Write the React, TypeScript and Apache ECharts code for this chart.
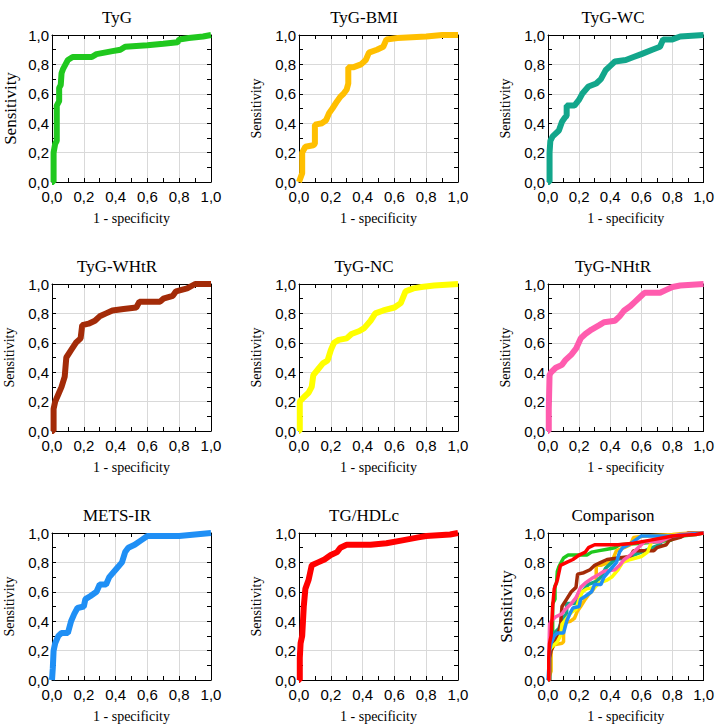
import React, { useEffect, useRef } from "react";
import * as echarts from "echarts";

type Pt = [number, number];

const PANEL_TITLES = ["TyG", "TyG-BMI", "TyG-WC", "TyG-WHtR", "TyG-NC", "TyG-NHtR", "METS-IR", "TG/HDLc", "Comparison"];
const CURVE_COLORS = ["#20c81e", "#ffbf00", "#12a68b", "#a32b08", "#ffff00", "#ff5cae", "#1f8ff5", "#ff0000"];
const Y_NAME = "Sensitivity";
const X_NAME = "1 - specificity";

const tyg: Pt[] = [[0, 0], [0.01, 0], [0.01, 0.2], [0.02, 0.26], [0.03, 0.28], [0.03, 0.52], [0.045, 0.55], [0.045, 0.64], [0.055, 0.66], [0.06, 0.74], [0.07, 0.77], [0.085, 0.8], [0.1, 0.83], [0.13, 0.85], [0.25, 0.85], [0.28, 0.87], [0.33, 0.88], [0.38, 0.89], [0.43, 0.9], [0.46, 0.92], [0.6, 0.93], [0.7, 0.94], [0.79, 0.95], [0.8, 0.97], [0.86, 0.98], [0.95, 0.99], [1, 1]];
const tygBmi: Pt[] = [[0, 0], [0.02, 0.06], [0.02, 0.2], [0.04, 0.24], [0.09, 0.25], [0.1, 0.26], [0.1, 0.39], [0.145, 0.4], [0.17, 0.42], [0.19, 0.47], [0.21, 0.5], [0.24, 0.55], [0.26, 0.58], [0.28, 0.6], [0.3, 0.63], [0.31, 0.67], [0.31, 0.78], [0.34, 0.78], [0.39, 0.8], [0.42, 0.83], [0.44, 0.88], [0.49, 0.9], [0.53, 0.92], [0.55, 0.97], [0.62, 0.98], [0.8, 0.99], [0.9, 1], [1, 1]];
const tygWc: Pt[] = [[0, 0], [0.01, 0], [0.01, 0.2], [0.015, 0.28], [0.03, 0.31], [0.07, 0.35], [0.09, 0.41], [0.11, 0.44], [0.12, 0.45], [0.12, 0.52], [0.17, 0.52], [0.2, 0.56], [0.22, 0.6], [0.26, 0.65], [0.31, 0.67], [0.34, 0.7], [0.37, 0.76], [0.4, 0.79], [0.43, 0.82], [0.5, 0.83], [0.55, 0.85], [0.6, 0.87], [0.67, 0.9], [0.72, 0.92], [0.74, 0.97], [0.8, 0.97], [0.85, 0.99], [1, 1]];
const tygWhtr: Pt[] = [[0, 0], [0.01, 0], [0.01, 0.15], [0.02, 0.2], [0.04, 0.25], [0.06, 0.3], [0.08, 0.37], [0.09, 0.5], [0.12, 0.55], [0.15, 0.6], [0.18, 0.63], [0.19, 0.72], [0.23, 0.73], [0.27, 0.75], [0.3, 0.78], [0.34, 0.8], [0.38, 0.82], [0.45, 0.83], [0.53, 0.84], [0.55, 0.88], [0.68, 0.88], [0.7, 0.9], [0.76, 0.92], [0.78, 0.95], [0.85, 0.97], [0.9, 1], [1, 1]];
const tygNc: Pt[] = [[0, 0], [0.005, 0], [0.005, 0.2], [0.03, 0.23], [0.06, 0.26], [0.08, 0.3], [0.09, 0.38], [0.12, 0.42], [0.15, 0.46], [0.18, 0.48], [0.2, 0.55], [0.22, 0.6], [0.25, 0.62], [0.3, 0.63], [0.33, 0.66], [0.38, 0.68], [0.41, 0.7], [0.45, 0.75], [0.48, 0.8], [0.53, 0.82], [0.6, 0.84], [0.64, 0.87], [0.67, 0.95], [0.72, 0.97], [0.77, 0.98], [0.85, 0.99], [1, 1]];
const tygNhtr: Pt[] = [[0, 0], [0.005, 0], [0.005, 0.15], [0.01, 0.38], [0.02, 0.4], [0.05, 0.43], [0.09, 0.45], [0.11, 0.48], [0.15, 0.52], [0.18, 0.56], [0.21, 0.63], [0.24, 0.66], [0.28, 0.69], [0.33, 0.72], [0.36, 0.74], [0.43, 0.75], [0.46, 0.78], [0.49, 0.82], [0.53, 0.85], [0.56, 0.88], [0.6, 0.92], [0.62, 0.94], [0.72, 0.94], [0.76, 0.96], [0.8, 0.98], [0.85, 0.99], [1, 1]];
const metsIr: Pt[] = [[0, 0], [0.005, 0.08], [0.01, 0.2], [0.02, 0.25], [0.04, 0.3], [0.06, 0.32], [0.1, 0.32], [0.12, 0.4], [0.14, 0.45], [0.16, 0.49], [0.2, 0.5], [0.21, 0.55], [0.24, 0.57], [0.28, 0.6], [0.3, 0.65], [0.34, 0.65], [0.36, 0.7], [0.4, 0.75], [0.44, 0.8], [0.46, 0.87], [0.48, 0.9], [0.52, 0.92], [0.56, 0.95], [0.6, 0.98], [0.8, 0.98], [0.9, 0.99], [1, 1]];
const tgHdl: Pt[] = [[0, 0], [0.005, 0], [0.005, 0.15], [0.01, 0.25], [0.02, 0.3], [0.03, 0.5], [0.04, 0.62], [0.06, 0.68], [0.08, 0.78], [0.12, 0.8], [0.16, 0.82], [0.2, 0.85], [0.24, 0.87], [0.26, 0.9], [0.3, 0.92], [0.45, 0.92], [0.55, 0.93], [0.65, 0.95], [0.75, 0.97], [0.8, 0.98], [0.95, 0.99], [1, 1]];

const CURVES: Pt[][] = [tyg, tygBmi, tygWc, tygWhtr, tygNc, tygNhtr, metsIr, tgHdl];

const COL_LEFT = [52, 299, 548];
const ROW_TOP = [35, 284, 533];
const PW = 159;
const PH = 147;

const SERIF = "'Times New Roman', 'Liberation Serif', Tinos, serif";
const SANS = "Arial, 'Liberation Sans', Arimo, sans-serif";

const fmt = (v: number) => v.toFixed(1).replace(".", ",");

export default function App() {
  const ref = useRef<HTMLDivElement>(null);
  useEffect(() => {
    document.body.style.margin = "0";
    const chart = echarts.init(ref.current!, undefined, { renderer: "svg" });
    const grid: any[] = [];
    const xAxis: any[] = [];
    const yAxis: any[] = [];
    const title: any[] = [];
    const series: any[] = [];
    for (let i = 0; i < 9; i++) {
      const r = Math.floor(i / 3);
      const c = i % 3;
      const left = COL_LEFT[c];
      const top = ROW_TOP[r];
      grid.push({ left, top, width: PW, height: PH, containLabel: false });
      title.push({
        text: PANEL_TITLES[i],
        left: left + 60,
        top: top - 31,
        textAlign: "center",
        textStyle: { fontFamily: SERIF, fontSize: 17, fontWeight: "normal", color: "#000" },
      });
      const big = i === 0 || i === 8;
      const common = {
        type: "value",
        min: 0,
        max: 1,
        interval: 0.2,
        gridIndex: i,
        axisLine: { show: true, onZero: false, lineStyle: { color: "#000", width: 1 } },
        axisTick: { show: true, inside: true, length: 4, lineStyle: { color: "#000" } },
        minorTick: { show: true, splitNumber: 2, length: 4, lineStyle: { color: "#000" } },
      };
      xAxis.push({
        ...common,
        position: "bottom",
        name: X_NAME,
        nameLocation: "middle",
        nameGap: 29,
        nameTextStyle: { fontFamily: SERIF, fontSize: 14, fontWeight: "normal", color: "#000" },
        axisLabel: { formatter: fmt, fontFamily: SANS, fontSize: 15, color: "#000", margin: 7, showMinLabel: true, showMaxLabel: true },
        splitLine: { show: true, lineStyle: { color: "#d9d9d9", width: 1 } },
      });
      xAxis.push({ ...common, position: "top", axisLabel: { show: false }, splitLine: { show: false } });
      yAxis.push({
        ...common,
        position: "left",
        name: Y_NAME,
        nameLocation: "middle",
        nameGap: big ? 33 : 36,
        nameRotate: 90,
        nameTextStyle: { fontFamily: SERIF, fontSize: big ? 17 : 14, fontWeight: "normal", color: "#000" },
        axisLabel: { formatter: fmt, fontFamily: SANS, fontSize: 15, color: "#000", margin: 3, showMinLabel: true, showMaxLabel: true },
        splitLine: { show: true, lineStyle: { color: "#d9d9d9", width: 1 } },
      });
      yAxis.push({ ...common, position: "right", axisLabel: { show: false }, splitLine: { show: false } });
      if (i < 8) {
        series.push({
          type: "line",
          xAxisIndex: 2 * i,
          yAxisIndex: 2 * i,
          data: CURVES[i],
          symbol: "none",
          lineStyle: { color: CURVE_COLORS[i], width: 6 },
          z: 3,
        });
      } else {
        CURVES.forEach((cv, k) => {
          series.push({
            type: "line",
            xAxisIndex: 2 * i,
            yAxisIndex: 2 * i,
            data: cv,
            symbol: "none",
            lineStyle: { color: CURVE_COLORS[k], width: 3.5 },
            z: 3,
          });
        });
      }
    }
    chart.setOption({
      animation: false,
      backgroundColor: "#fff",
      textStyle: { fontFamily: SANS },
      title,
      grid,
      xAxis,
      yAxis,
      series,
    });
    return () => chart.dispose();
  }, []);
  return <div ref={ref} style={{ width: 717, height: 726 }} />;
}
